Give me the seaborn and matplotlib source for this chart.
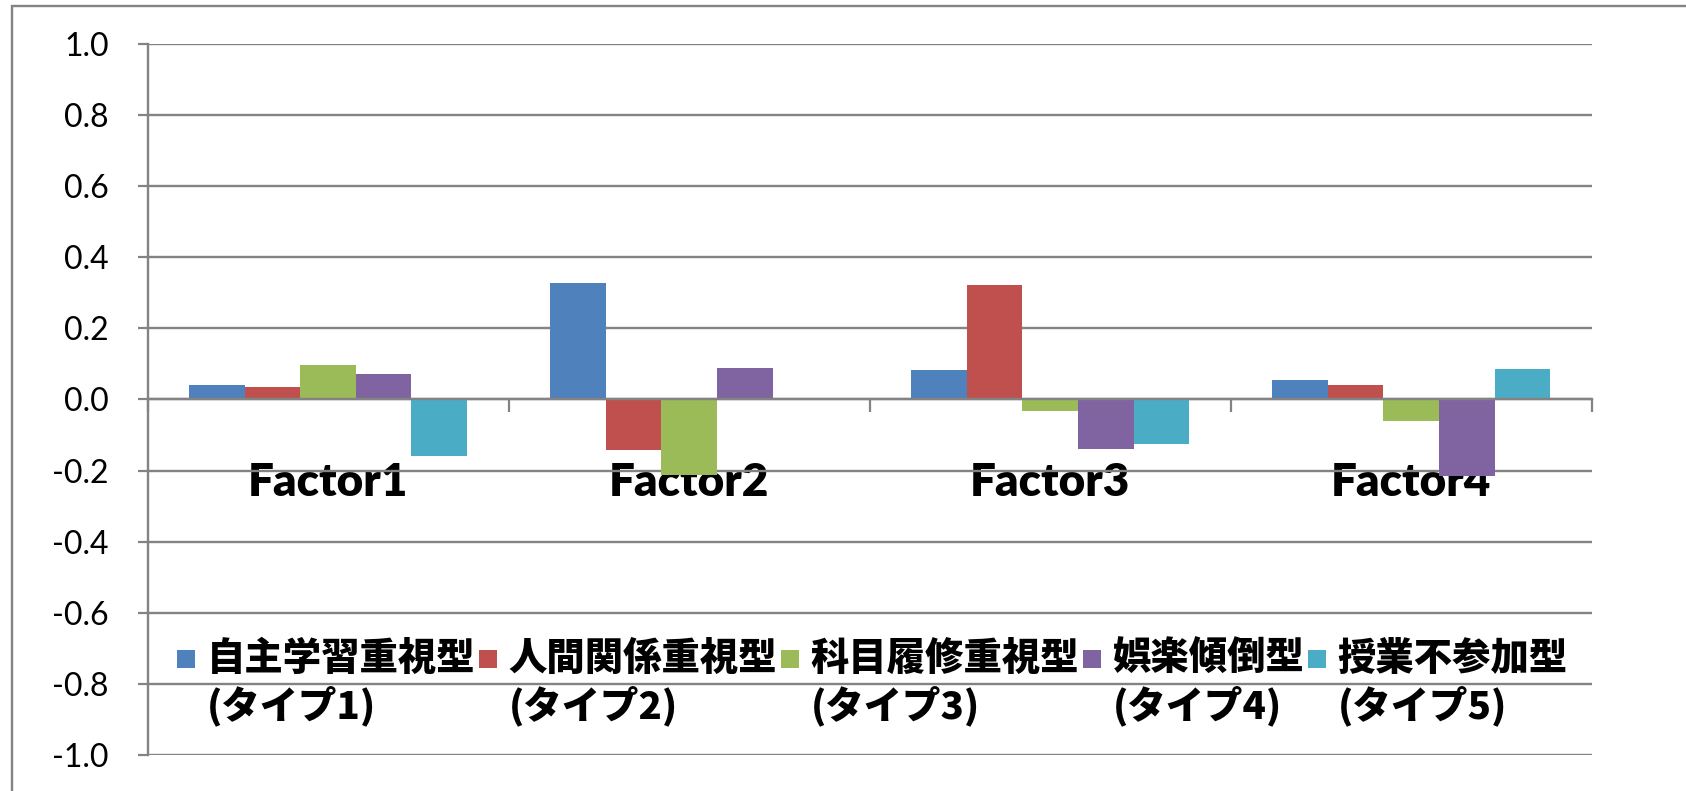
import matplotlib
matplotlib.use("Agg")
import matplotlib.pyplot as plt
import matplotlib.patches as mpatches
from matplotlib.font_manager import FontProperties
from matplotlib.legend_handler import HandlerPatch
import pandas as pd
import seaborn as sns

# ---- data -------------------------------------------------------------
factors = ["Factor1", "Factor2", "Factor3", "Factor4"]
type_names = ["自主学習重視型", "人間関係重視型", "科目履修重視型", "娯楽傾倒型", "授業不参加型"]
type_tags = ["(タイプ1)", "(タイプ2)", "(タイプ3)", "(タイプ4)", "(タイプ5)"]
type1 = [0.042, 0.327, 0.084, 0.055]
type2 = [0.035, -0.143, 0.323, 0.040]
type3 = [0.097, -0.213, -0.032, -0.060]
type4 = [0.072, 0.088, -0.140, -0.215]
type5 = [-0.158, 0.004, -0.124, 0.087]
y_ticks = [-1.0, -0.8, -0.6, -0.4, -0.2, 0.0, 0.2, 0.4, 0.6, 0.8, 1.0]
colors = ["#4F81BD", "#C0504D", "#9BBB59", "#8064A2", "#4BACC6"]

series = [type1, type2, type3, type4, type5]
labels = [f"{n}\n{t}" for n, t in zip(type_names, type_tags)]
df = pd.DataFrame(
    [(f, lab, v) for lab, vals in zip(labels, series) for f, v in zip(factors, vals)],
    columns=["factor", "type", "value"],
)

# ---- style ------------------------------------------------------------
sns.set_theme(style="white")
plt.rcParams["font.family"] = ["Lato", "Noto Sans CJK JP", "DejaVu Sans"]
plt.rcParams["axes.unicode_minus"] = False

GRAY = "#838383"

fig = plt.figure(figsize=(16.86, 7.91), dpi=100)
ax = fig.add_axes([0.0876, 0.0455, 0.8565, 0.8989])

sns.barplot(
    data=df, x="factor", y="value", hue="type",
    order=factors, hue_order=labels, palette=colors,
    width=0.769, saturation=1, linewidth=0, ax=ax,
)

ax.set_xlim(-0.5, 3.5)
ax.set_ylim(-1.0, 1.0)
ax.set_xlabel("")
ax.set_ylabel("")

# horizontal gridlines behind the bars
ax.set_axisbelow(True)
ax.yaxis.grid(True, color=GRAY, linewidth=1.7)
ax.xaxis.grid(False)

for side in ("top", "right"):
    ax.spines[side].set_visible(False)
ax.spines["left"].set_color(GRAY)
ax.spines["left"].set_linewidth(1.7)
ax.spines["bottom"].set_color(GRAY)
ax.spines["bottom"].set_linewidth(1.7)
ax.spines["bottom"].set_position(("data", 0))

# value axis
ax.set_yticks(y_ticks)
ax.set_yticklabels([f"{v:.1f}" for v in y_ticks])
ax.tick_params(axis="y", length=7.2, width=1.6, color=GRAY, pad=21,
               labelsize=23, labelcolor="black", left=True)

# category axis: names under the zero line, marks between the groups
ax.set_xticks(range(len(factors)))
ax.set_xticklabels(factors, fontsize=33, fontweight="heavy", color="black")
ax.tick_params(axis="x", which="major", length=0, pad=45)
ax.set_xticks([i - 0.5 for i in range(len(factors) + 1)], minor=True)
ax.tick_params(axis="x", which="minor", length=9.4, width=1.6, color=GRAY,
               direction="out", bottom=True)


# legend: square marker beside the first line of each two-line label
def square_on_first_line(legend, orig_handle, xdescent, ydescent, width, height, fontsize):
    return mpatches.Rectangle((-xdescent, -ydescent + 19.2), width, width)


old = ax.get_legend()
handles = list(old.legend_handles)
old.remove()
leg_font = FontProperties(family=["Noto Sans CJK JP", "DejaVu Sans"], weight="heavy", size=27.6)
leg = ax.legend(
    handles, labels, ncol=5, prop=leg_font, frameon=False,
    loc="upper left", bbox_to_anchor=(177 / 1686, 1 - 640 / 791),
    bbox_transform=fig.transFigure, borderpad=0, borderaxespad=0,
    handlelength=0.47, handleheight=0.47, handletextpad=0.3, columnspacing=0.1,
    handler_map={mpatches.Rectangle: HandlerPatch(patch_func=square_on_first_line)},
)
for t in leg.get_texts():
    t.set_linespacing(1.22)
    t.set_color("black")

# chart-area border
fig.add_artist(mpatches.Rectangle((12 / 1686, -0.1), 1.2, 1 - 6 / 791 + 0.1,
                                  transform=fig.transFigure, fill=False,
                                  edgecolor=GRAY, linewidth=1.7))

fig.savefig("out.png", dpi=100)
